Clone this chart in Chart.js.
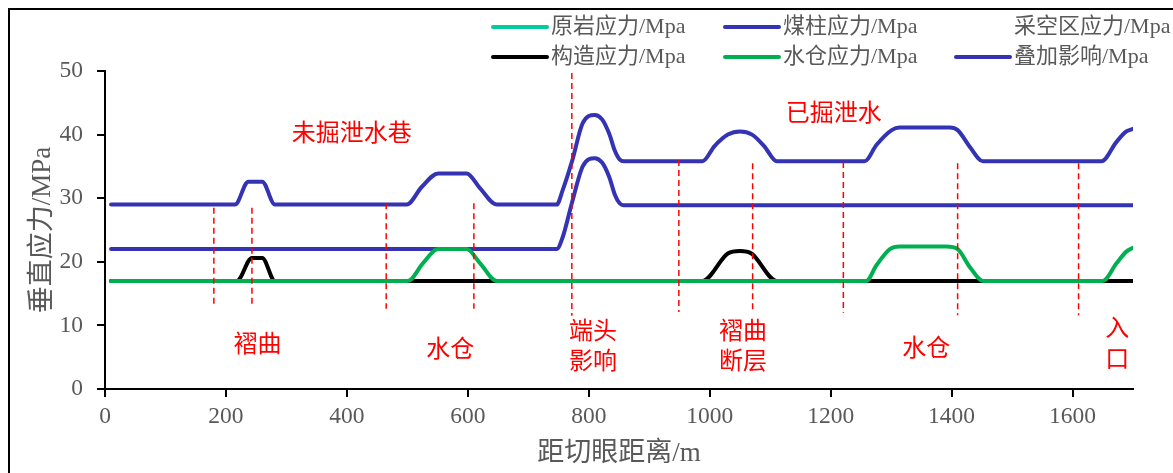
<!DOCTYPE html>
<html>
<head>
<meta charset="utf-8">
<script src="https://cdn.jsdelivr.net/npm/chart.js@4.4.1/dist/chart.umd.min.js"></script>
<style>
  html, body { margin: 0; padding: 0; background: #fff; }
  #wrap { width: 1173px; height: 473px; }
</style>
</head>
<body>
<div id="wrap"><canvas id="stressChart"></canvas></div>
<script>
// series names, in legend order (row by row, 3 per row)
const seriesNames = ['原岩应力/Mpa', '煤柱应力/Mpa', '采空区应力/Mpa', '构造应力/Mpa', '水仓应力/Mpa', '叠加影响/Mpa'];

// distance from cut (m) and vertical stress (MPa) per series
const rockX = [10, 1700];
const rockY = [17, 17];

const pillarX = [10, 747, 757, 772, 790, 810, 822, 834, 843, 851, 858, 1700];
const pillarY = [22, 22, 23.9, 29.2, 35, 36.3, 35.6, 33.3, 30.6, 29.2, 28.9, 28.9];

const goafX = [];
const goafY = [];

const tectX = [10, 218, 243, 260, 281, 988, 1030, 1050, 1069, 1111, 1700];
const tectY = [17, 17, 20.6, 20.6, 17, 17, 21.3, 21.7, 21.3, 17, 17];

const sumpX = [10, 501, 526, 551, 598, 620, 648, 1259, 1276, 1298, 1314, 1391, 1410, 1430, 1452, 1650, 1673, 1689, 1700];
const sumpY = [17, 17, 19.8, 22, 22, 19.8, 17, 17, 19.5, 22, 22.4, 22.4, 22, 19.2, 17, 17, 19.8, 21.6, 22.2];

const totalX = [10, 215, 237, 260, 281, 499, 524, 551, 598, 620, 648, 747, 757, 772, 790, 810, 822, 834, 843, 851, 858,
                988, 1008, 1030, 1050, 1070, 1090, 1111, 1256, 1276, 1301, 1314, 1397, 1410, 1430, 1452, 1648, 1673, 1689, 1700];
const totalY = [29, 29, 32.6, 32.6, 29, 29, 31.8, 33.9, 33.9, 31.6, 29, 29, 31.3, 35.7, 41.8, 43.1, 42.4, 40.1, 37.5, 36.1, 35.8,
                35.8, 38.2, 40, 40.5, 40, 38.2, 35.8, 35.8, 38.4, 40.7, 41.1, 41.1, 40.7, 38.1, 35.8, 35.8, 38.9, 40.5, 40.9];

// red section markers (dashed) and notes
const markX = [180, 243, 465, 610, 772, 949, 1071, 1221, 1410, 1610];
const markTop = [28.5, 28.5, 29.2, 29.2, 49.7, 36.0, 35.5, 35.7, 35.5, 35.5];
const markBottom = [13.0, 13.0, 12.6, 12.6, 11.5, 12.1, 12.4, 12.0, 11.6, 11.6];

const noteText = ['未掘泄水巷', '已掘泄水', '褶曲', '水仓', '端头', '影响', '褶曲', '断层', '水仓', '入', '口'];
const noteX = [408, 1205, 252, 571, 807, 807, 1055, 1055, 1358, 1674, 1674];
const noteY = [40.4, 43.6, 7.2, 6.45, 9.3, 4.56, 9.3, 4.56, 6.6, 9.75, 4.87];

const serif = '"Liberation Serif", "Noto Sans CJK SC", serif';
const cjk = '"Noto Sans CJK SC", sans-serif';
const grey = '#595959';

function pts(xs, ys) {
    return xs.map((x, i) => ({ x: x, y: ys[i] }));
}

function line(label, xs, ys, color, order) {
    return {
        label: label,
        data: pts(xs, ys),
        borderColor: color,
        backgroundColor: color,
        borderWidth: 4,
        pointRadius: 0,
        fill: false,
        cubicInterpolationMode: 'monotone',
        borderCapStyle: 'round',
        borderJoinStyle: 'round',
        order: order
    };
}

const framePlugin = {
    id: 'frame',
    beforeDraw(chart) {
        const ctx = chart.ctx;
        ctx.save();
        ctx.fillStyle = '#fff';
        ctx.fillRect(0, 0, chart.width, chart.height);
        ctx.strokeStyle = '#000';
        ctx.lineWidth = 2;
        ctx.beginPath();
        ctx.moveTo(9, chart.height);
        ctx.lineTo(9, 9);
        ctx.lineTo(chart.width, 9);
        ctx.stroke();
        ctx.restore();
    }
};

const notesPlugin = {
    id: 'notes',
    afterDatasetsDraw(chart) {
        const ctx = chart.ctx;
        const xs = chart.scales.x, ys = chart.scales.y;
        ctx.save();
        ctx.strokeStyle = '#ff0000';
        ctx.lineWidth = 1.5;
        ctx.setLineDash([6, 4]);
        markX.forEach((x, i) => {
            const px = xs.getPixelForValue(x);
            ctx.beginPath();
            ctx.moveTo(px, ys.getPixelForValue(markTop[i]));
            ctx.lineTo(px, ys.getPixelForValue(markBottom[i]));
            ctx.stroke();
        });
        ctx.setLineDash([]);
        ctx.fillStyle = '#ff0000';
        ctx.font = '24px ' + cjk;
        ctx.textAlign = 'center';
        ctx.textBaseline = 'middle';
        noteText.forEach((t, i) => {
            ctx.fillText(t, xs.getPixelForValue(noteX[i]), ys.getPixelForValue(noteY[i]));
        });
        ctx.restore();
    }
};

// legend laid out as a 3 x 2 grid like the original
const legendCols = [493, 725, 956];
const legendRows = [27, 57];
const legendPlugin = {
    id: 'gridLegend',
    afterDraw(chart) {
        const ctx = chart.ctx;
        ctx.save();
        ctx.font = '22px ' + serif;
        ctx.textBaseline = 'middle';
        ctx.textAlign = 'left';
        chart.data.datasets.forEach((ds, i) => {
            const x = legendCols[i % 3];
            const y = legendRows[Math.floor(i / 3)];
            ctx.strokeStyle = ds.borderColor;
            ctx.lineWidth = 4;
            ctx.lineCap = 'round';
            ctx.beginPath();
            ctx.moveTo(x, y);
            ctx.lineTo(x + 54, y);
            ctx.stroke();
            ctx.fillStyle = grey;
            ctx.fillText(ds.label, x + 58, y);
        });
        ctx.restore();
    }
};

new Chart(document.getElementById('stressChart'), {
    type: 'line',
    data: {
        datasets: [
            line(seriesNames[0], rockX, rockY, '#00CC99', 3),
            line(seriesNames[1], pillarX, pillarY, '#3333B4', 4),
            line(seriesNames[2], goafX, goafY, '#ffffff', 6),
            line(seriesNames[3], tectX, tectY, '#000000', 1),
            line(seriesNames[4], sumpX, sumpY, '#00B050', 0),
            line(seriesNames[5], totalX, totalY, '#3333B4', 5)
        ]
    },
    options: {
        responsive: true,
        maintainAspectRatio: false,
        animation: false,
        layout: { padding: { left: 0, right: 40, top: 71, bottom: 0 } },
        plugins: {
            legend: { display: false },
            tooltip: { enabled: false }
        },
        scales: {
            x: {
                type: 'linear',
                min: 0,
                max: 1700,
                afterFit: (s) => { s.height = 84; },
                grid: { drawOnChartArea: false, tickLength: 8, color: '#000', lineWidth: 2 },
                border: { color: '#000', width: 2 },
                ticks: {
                    stepSize: 200,
                    includeBounds: false,
                    autoSkip: false,
                    maxRotation: 0,
                    padding: 6,
                    color: grey,
                    font: { family: serif, size: 23.5 },
                    callback: (v) => String(v)
                },
                title: {
                    display: true,
                    text: '距切眼距离/m',
                    color: grey,
                    font: { family: serif, size: 27 },
                    padding: { top: 0, bottom: 3 }
                }
            },
            y: {
                min: 0,
                max: 50,
                afterFit: (s) => { s.width = 105; },
                grid: { drawOnChartArea: false, tickLength: 8, color: '#000', lineWidth: 2 },
                border: { color: '#000', width: 2 },
                ticks: {
                    stepSize: 10,
                    padding: 14,
                    color: grey,
                    font: { family: serif, size: 23.5 },
                    callback: (v) => String(v)
                },
                title: {
                    display: true,
                    text: '垂直应力/MPa',
                    color: grey,
                    font: { family: serif, size: 27 },
                    padding: { top: 27, bottom: 0 }
                }
            }
        }
    },
    plugins: [framePlugin, notesPlugin, legendPlugin]
});
</script>
</body>
</html>
